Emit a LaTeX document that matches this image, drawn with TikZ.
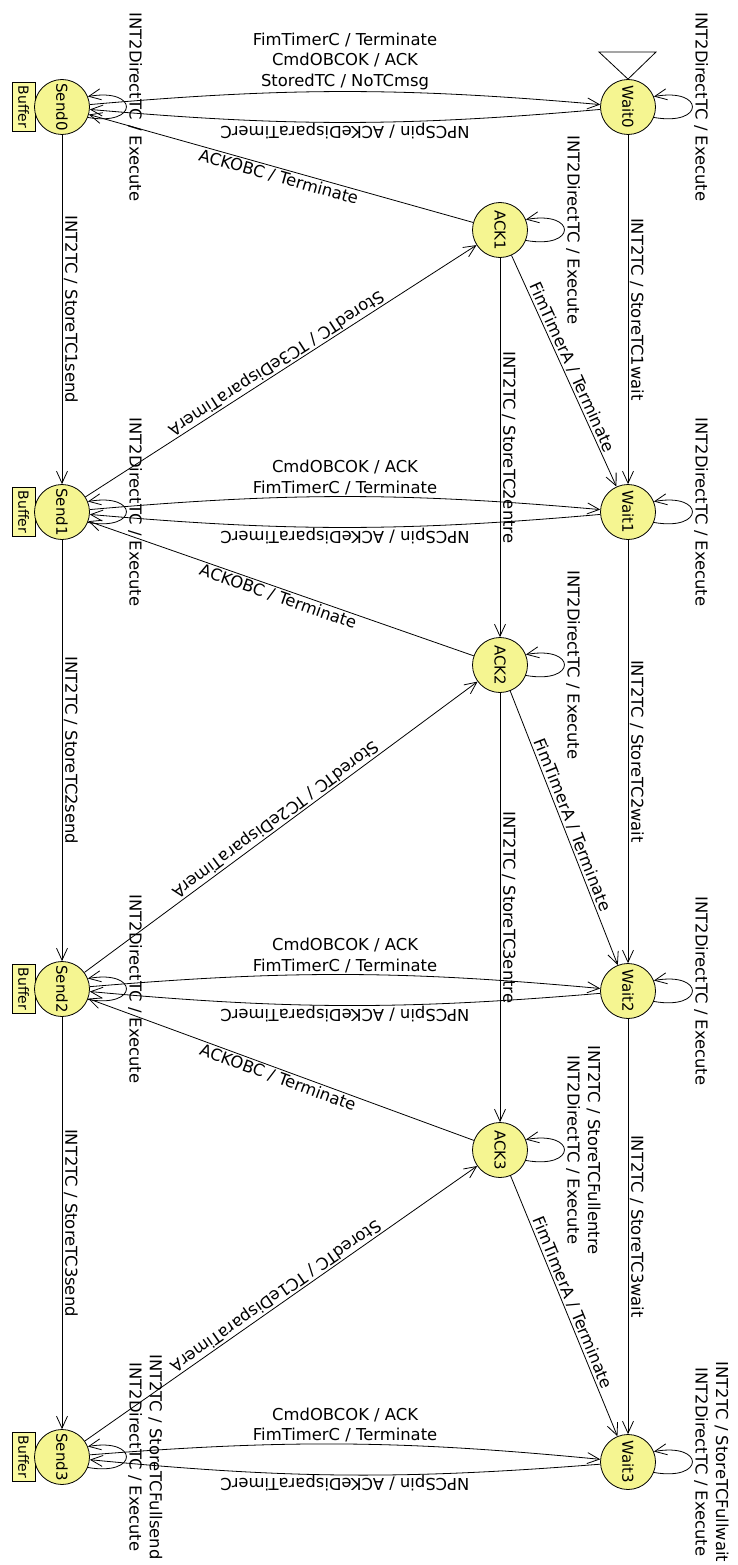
\documentclass[tikz,border=0pt]{standalone}
\usepackage{fontspec}
\setmainfont{DejaVu Sans}
\usepackage{graphicx}
\usetikzlibrary{arrows.meta}
\definecolor{stfill}{RGB}{245,245,145}
\definecolor{buffill}{RGB}{250,250,160}
\tikzset{
  arr/.style={-{Straight Barb[length=12pt,width=11pt]}, line width=0.8pt},
  rarr/.style={{Straight Barb[length=12pt,width=11pt]}-, line width=0.8pt},
  state/.style={circle, draw=black, fill=stfill, minimum size=55pt, inner sep=0pt, line width=0.8pt, font=\fontsize{15}{18}\selectfont},
  buf/.style={rectangle, draw=black, fill=buffill, minimum width=23pt, minimum height=49pt, inner sep=0pt, line width=0.8pt, font=\fontsize{14}{16}\selectfont},
  lab/.style={font=\fontsize{16.4}{20.5}\selectfont, align=center, inner sep=1.5pt},
  vl/.style={lab, rotate=-90, anchor=south},
}
\begin{document}
\begin{tikzpicture}[x=1pt,y=1pt]
\fill[white] (0,0) rectangle (737,-1565);
\useasboundingbox (0,0) rectangle (737,-1565);
% buffers
\foreach \i/\y in {0/107,1/512,2/989,3/1457}
  \node[buf] (B\i) at (23.5,-\y) {\rotatebox{-90}{Buffer}};
% states
\foreach \i/\y in {0/107,1/512,2/989,3/1457}
  \node[state] (S\i) at (62,-\y) {\rotatebox{-90}{Send\i}};
\foreach \i/\y in {0/107,1/512,2/991,3/1462}
  \node[state] (W\i) at (628,-\y) {\rotatebox{-90}{Wait\i}};
\foreach \i/\y in {1/230,2/665,3/1150}
  \node[state] (A\i) at (500,-\y) {\rotatebox{-90}{ACK\i}};
% initial marker
\draw[line width=0.8pt] (599,-52) -- (656,-52) -- (W0.north) -- cycle;
% self loops
\foreach \n in {S0,S1,S2,S3,W0,W1,W2,W3,A1,A2,A3}
  \draw[arr] (\n.-22) .. controls +(-10:52) and +(10:52) .. (\n.22) coordinate[pos=0.5] (\n-tip);
\foreach \n in {S0,S1,S2,W0,W1,W2,A1,A2}
  \node[vl] (l\n) at (\n-tip) {INT2DirectTC / Execute};
\node[vl] (lS3) at (S3-tip) {INT2TC / StoreTCFullsend\\INT2DirectTC / Execute};
\node[vl] (lW3) at (W3-tip) {INT2TC / StoreTCFullwait\\INT2DirectTC / Execute};
\node[vl] (lA3) at (A3-tip) {INT2TC / StoreTCFullentre\\INT2DirectTC / Execute};
% send <-> wait
\draw[arr] (S0) to[bend left=5] node[lab, above] {FimTimerC / Terminate\\CmdOBCOK / ACK\\StoredTC / NoTCmsg} (W0);
\foreach \i in {1,2,3}
  \draw[arr] (S\i) to[bend left=5] node[lab, above] {CmdOBCOK / ACK\\FimTimerC / Terminate} (W\i);
\foreach \i in {0,1,2,3}
  \draw[arr] (W\i) to[bend left=5] node[lab, rotate=180, anchor=south, inner sep=0pt] {NPCSpin / ACKeDisparaTimerC} (S\i);
% vertical chains
\draw[arr] (S0) -- node[vl] {INT2TC / StoreTC1send} (S1);
\draw[arr] (S1) -- node[vl] {INT2TC / StoreTC2send} (S2);
\draw[arr] (S2) -- node[vl] {INT2TC / StoreTC3send} (S3);
\draw[arr] (W0) -- node[vl] {INT2TC / StoreTC1wait} (W1);
\draw[arr] (W1) -- node[vl] {INT2TC / StoreTC2wait} (W2);
\draw[arr] (W2) -- node[vl] {INT2TC / StoreTC3wait} (W3);
\draw[arr] (A1) -- node[vl] {INT2TC / StoreTC2entre} (A2);
\draw[arr] (A2) -- node[vl] {INT2TC / StoreTC3entre} (A3);
% ACK edges
\foreach \j/\p/\t in {1/0/3,2/1/2,3/2/1}{
  \draw[arr] (A\j) -- node[lab, sloped, below] {ACKOBC / Terminate} (S\p);
  \draw[rarr] (A\j) -- node[lab, sloped, allow upside down, below] {StoredTC / TC\t eDisparaTimerA} (S\j);
  \draw[arr] (A\j) -- node[lab, sloped, above] {FimTimerA / Terminate} (W\j);
}
\end{tikzpicture}
\end{document}
